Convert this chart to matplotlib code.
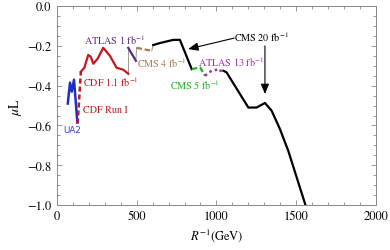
import matplotlib
matplotlib.use("Agg")
import matplotlib.pyplot as plt
from matplotlib.ticker import MultipleLocator

plt.rcParams['font.family'] = ['STIXGeneral', 'Liberation Serif', 'DejaVu Serif']
plt.rcParams['mathtext.fontset'] = 'stix'

# limits
ua2_x = [68, 82, 93, 107, 128]
ua2_y = [-0.49, -0.385, -0.43, -0.37, -0.585]

cdf1_x = [130, 150]
cdf1_y = [-0.59, -0.33]

cdf11_x = [150, 172, 196, 212, 228, 255, 290, 332, 374, 416, 447]
cdf11_y = [-0.33, -0.31, -0.246, -0.255, -0.29, -0.265, -0.21, -0.25, -0.31, -0.32, -0.34]

atlas1_x = [447, 495]
atlas1_y = [-0.21, -0.275]

cms4_x = [499, 594]
cms4_y = [-0.21, -0.225]

cms20a_x = [604, 646, 729, 771, 845]
cms20a_y = [-0.196, -0.186, -0.17, -0.17, -0.317]

cms5_x = [845, 897, 928]
cms5_y = [-0.317, -0.308, -0.35]

atlas13_x = [928, 970, 1022, 1033]
atlas13_y = [-0.35, -0.325, -0.317, -0.34]

cms20b_x = [1043, 1063, 1200, 1252, 1304, 1346, 1398, 1450, 1570]
cms20b_y = [-0.325, -0.333, -0.51, -0.51, -0.487, -0.526, -0.618, -0.727, -1.03]

fig = plt.figure(figsize=(3.9, 2.51), dpi=100)
ax = fig.add_axes([0.146, 0.179, 0.818, 0.793])

# thin grey joins between experiments
ax.plot([447, 447], [-0.34, -0.21], color='#999999', lw=0.7)
ax.plot([495, 499], [-0.275, -0.21], color='#999999', lw=0.7)
ax.plot([594, 604], [-0.225, -0.196], color='#999999', lw=0.7)

ax.plot(ua2_x, ua2_y, color='#1f2fbf', lw=1.8)
ax.plot(cdf1_x, cdf1_y, color='#c3161d', lw=1.8, ls=(0, (2, 1.2)))
ax.plot(cdf11_x, cdf11_y, color='#c3161d', lw=1.6)
ax.plot(atlas1_x, atlas1_y, color='#5a2a86', lw=1.6)
ax.plot(cms4_x, cms4_y, color='#a47a52', lw=1.6, ls=(0, (2.5, 1.2)))
ax.plot(cms20a_x, cms20a_y, color='black', lw=1.6)
ax.plot(cms5_x, cms5_y, color='#22b022', lw=1.6, ls=(0, (2.5, 1.2)))
ax.plot(atlas13_x, atlas13_y, color='#9a2fa8', lw=1.8, ls=(0, (1, 1.3)))
ax.plot(cms20b_x, cms20b_y, color='black', lw=1.6)

fs = 7.3
ax.text(364, -0.166, r'ATLAS 1 fb$^{-1}$', color='#5a2a86', fontsize=fs, ha='center', va='center')
ax.text(658, -0.281, r'CMS 4 fb$^{-1}$', color='#a47a52', fontsize=fs, ha='center', va='center')
ax.text(339, -0.377, r'CDF 1.1 fb$^{-1}$', color='#c3161d', fontsize=fs, ha='center', va='center')
ax.text(301, -0.518, 'CDF Run I', color='#c3161d', fontsize=fs, ha='center', va='center')
ax.text(94, -0.618, 'UA2', color='#3344c8', fontsize=6.3, ha='center', va='center', family='DejaVu Sans')
ax.text(865, -0.392, r'CMS 5 fb$^{-1}$', color='#22b022', fontsize=fs, ha='center', va='center')
ax.text(1091, -0.276, r'ATLAS 13 fb$^{-1}$', color='#9a2fa8', fontsize=fs, ha='center', va='center')
ax.text(1285, -0.151, r'CMS 20 fb$^{-1}$', color='black', fontsize=fs, ha='center', va='center')

arrow = dict(arrowstyle='-|>,head_length=0.6,head_width=0.25', color='black', lw=0.8, shrinkA=0, shrinkB=0)
ax.annotate('', xy=(823, -0.216), xytext=(1112, -0.161), arrowprops=arrow)
ax.annotate('', xy=(1304, -0.442), xytext=(1304, -0.2), arrowprops=arrow)

ax.set_xlim(0, 2000)
ax.set_ylim(-1.0, 0.0)
ax.xaxis.set_major_locator(MultipleLocator(500))
ax.xaxis.set_minor_locator(MultipleLocator(100))
ax.yaxis.set_major_locator(MultipleLocator(0.2))
ax.yaxis.set_minor_locator(MultipleLocator(0.05))
ax.tick_params(which='both', direction='in', top=True, right=True, colors='#888888',
               labelcolor='black', labelsize=9, width=0.6)
ax.tick_params(which='major', length=3.5, pad=4)
ax.tick_params(which='minor', length=2)
for s in ax.spines.values():
    s.set_color('#888888')
    s.set_linewidth(0.7)
ax.yaxis.set_major_formatter(plt.FuncFormatter(lambda v, p: ('%.1f' % v).replace('-', '\u2212')))

ax.set_xlabel(r'$R^{-1}$(GeV)', fontsize=9, labelpad=3)
ax.set_ylabel(r'$\mu$L', fontsize=10, labelpad=2)

fig.savefig('out.png', dpi=100)
